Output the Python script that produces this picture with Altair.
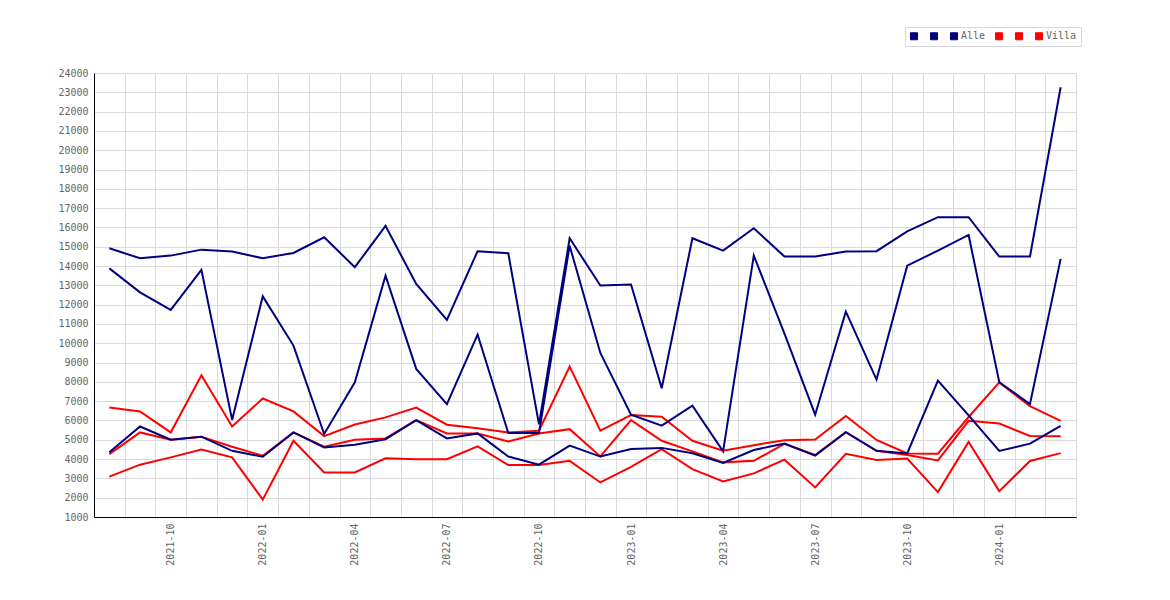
import altair as alt
import pandas as pd

months = [
    "2021-08", "2021-09", "2021-10", "2021-11", "2021-12",
    "2022-01", "2022-02", "2022-03", "2022-04", "2022-05", "2022-06",
    "2022-07", "2022-08", "2022-09", "2022-10", "2022-11", "2022-12",
    "2023-01", "2023-02", "2023-03", "2023-04", "2023-05", "2023-06",
    "2023-07", "2023-08", "2023-09", "2023-10", "2023-11", "2023-12",
    "2024-01", "2024-02", "2024-03",
]

alle_hi = [14920, 14400, 14540, 14850, 14750, 14400, 14680, 15490, 13940, 16080,
           13070, 11210, 14770, 14660, 5800, 15440, 12990, 13040, 7670, 15440,
           14800, 15960, 14490, 14490, 14750, 14770, 15800, 16530, 16530, 14490,
           14490, 23260]
alle_mid = [13880, 12640, 11730, 13800, 6030, 12430, 9880, 5300, 7980, 13500,
            8670, 6850, 10450, 5350, 5350, 15050, 9500, 6300, 5730, 6770,
            4400, 14540, 10500, 6300, 11640, 8120, 14020, 14800, 15610, 7980,
            6850, 14370]
alle_lo = [4350, 5690, 5000, 5160, 4430, 4120, 5380, 4600, 4740, 5030,
           6020, 5070, 5330, 4130, 3710, 4700, 4130, 4520, 4580, 4300,
           3800, 4470, 4800, 4180, 5390, 4430, 4290, 8070, 6260, 4420,
           4800, 5720]

villa_hi = [6670, 6470, 5380, 8340, 5690, 7140, 6470, 5190, 5790, 6160,
            6670, 5780, 5600, 5380, 5470, 8790, 5470, 6280, 6190, 4950,
            4430, 4720, 4980, 5010, 6230, 4990, 4290, 4280, 6180, 7970,
            6740, 5980]
villa_mid = [4260, 5380, 5000, 5160, 4640, 4170, 5380, 4640, 5000, 5070,
             6020, 5330, 5330, 4910, 5330, 5550, 4140, 6020, 4950, 4400,
             3830, 3910, 4790, 4210, 5390, 4430, 4210, 3930, 5980, 5840,
             5200, 5180]
villa_lo = [3090, 3710, 4090, 4500, 4090, 1900, 4950, 3310, 3310, 4040,
            3990, 3990, 4660, 3690, 3690, 3910, 2790, 3600, 4520, 3480,
            2840, 3260, 3970, 2530, 4270, 3950, 4030, 2290, 4890, 2340,
            3900, 4310]

series_names = ["Alle_1", "Alle_2", "Alle", "Villa_1", "Villa_2", "Villa"]
series_colors = ["#000080", "#000080", "#000080", "#ff0000", "#ff0000", "#ff0000"]
series_values = [alle_hi, alle_mid, alle_lo, villa_hi, villa_mid, villa_lo]

rows = []
for name, vals in zip(series_names, series_values):
    for i, (m, v) in enumerate(zip(months, vals)):
        rows.append({"idx": i, "month": m, "series": name, "value": v,
                     "group": name.split("_")[0]})
df = pd.DataFrame(rows)

n = len(months)
label_idx = [i for i, m in enumerate(months) if m[5:] in ("01", "04", "07", "10")]
grid_vals = [k / 2 for k in range(-1, 2 * n, 2)]
x_values = sorted(grid_vals + label_idx)
month_js = "[" + ",".join("'" + m + "'" for m in months) + "]"
x_label_expr = "datum.value % 1 === 0 ? " + month_js + "[datum.value] : ''"

FONT = "DejaVu Sans Mono"
LABEL_COLOR = "#666666"
GRID_COLOR = "#dadada"

x_enc = alt.X(
    "idx:Q",
    scale=alt.Scale(domain=[-0.5, n - 0.5], nice=False, zero=False),
    axis=alt.Axis(
        title=None,
        values=x_values,
        labelExpr=x_label_expr,
        labelAngle=270,
        labelPadding=6,
        labelOverlap=False,
        labelFlush=False,
        labelFont=FONT,
        labelFontSize=10,
        labelColor=LABEL_COLOR,
        ticks=False,
        domainColor="#000000",
        domainWidth=1,
        grid=True,
        gridColor=GRID_COLOR,
        gridOpacity={"condition": {"test": "datum.value % 1 === 0", "value": 0}, "value": 1},
    ),
)

y_enc = alt.Y(
    "value:Q",
    scale=alt.Scale(domain=[1000, 24000], nice=False, zero=False),
    axis=alt.Axis(
        title=None,
        values=list(range(1000, 24001, 1000)),
        format="d",
        labelPadding=6,
        labelFont=FONT,
        labelFontSize=10,
        labelColor=LABEL_COLOR,
        ticks=False,
        domainColor="#000000",
        domainWidth=1,
        grid=True,
        gridColor=GRID_COLOR,
    ),
)

color_enc = alt.Color(
    "series:N",
    scale=alt.Scale(domain=series_names, range=series_colors),
    legend=alt.Legend(
        title=None,
        orient="none",
        legendX=811,
        legendY=-46,
        direction="horizontal",
        columns=6,
        symbolType="square",
        symbolSize=49,
        symbolStrokeColor="#666666",
        symbolStrokeWidth=1,
        symbolOpacity=1,
        labelExpr="indexof(datum.label, '_') >= 0 ? '\u00a0' : datum.label",
        labelFont=FONT,
        labelFontSize=10,
        labelColor=LABEL_COLOR,
        labelOffset=2,
        columnPadding=7,
        padding=4,
        strokeColor="#d8d8d8",
        fillColor="#ffffff",
    ),
)

# empty layer of filled squares so that the legend symbols are filled squares
legend_layer = alt.Chart(df).transform_filter(
    alt.datum.value < 0
).mark_point(shape="square", filled=True, size=49).encode(
    x=x_enc, y=y_enc, color=color_enc
)

villa_layer = alt.Chart(df).transform_filter(
    alt.datum.group == "Villa"
).mark_line(strokeWidth=2).encode(
    x=x_enc, y=y_enc, color=color_enc, detail="series:N"
)

alle_layer = alt.Chart(df).transform_filter(
    alt.datum.group == "Alle"
).mark_line(strokeWidth=2).encode(
    x=x_enc, y=y_enc, color=color_enc, detail="series:N"
)

chart = alt.layer(legend_layer, villa_layer, alle_layer).properties(
    width=982,
    height=444,
    padding={"left": 86, "top": 65, "right": 80, "bottom": 75},
    autosize="none",
    background="#ffffff",
).configure_view(strokeOpacity=0)

chart.save("out.html", embed_options={"renderer": "svg", "actions": False})
